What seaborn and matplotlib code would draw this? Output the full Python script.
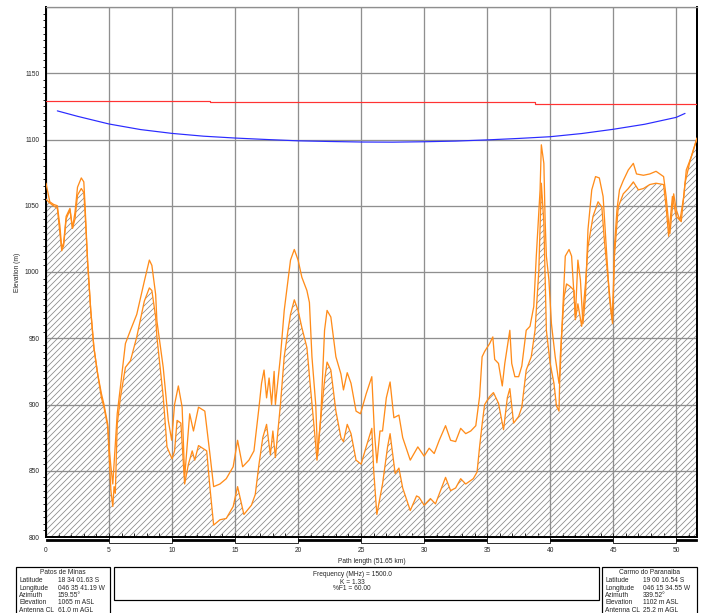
import matplotlib
matplotlib.use('Agg')
import matplotlib.pyplot as plt
from matplotlib.patches import Rectangle
from matplotlib.ticker import MultipleLocator, FixedLocator
import seaborn as sns
import pandas as pd

# terrain profile (km, m)
ground_km = [0.0, 0.3, 0.6, 0.9, 1.1, 1.25, 1.4, 1.6, 1.9, 2.1, 2.3, 2.5, 2.8, 3.0, 3.1, 3.3, 3.55, 3.8,
             4.1, 4.4, 4.6, 4.9, 5.0, 5.15, 5.3, 5.4, 5.5, 5.65, 5.9, 6.3, 6.7, 7.2, 7.8, 8.2, 8.4, 8.7,
             8.8, 9.3, 9.6, 10.0, 10.2, 10.4, 10.7, 11.0, 11.3, 11.6, 11.8, 12.1, 12.75, 13.0, 13.3, 13.8,
             14.3, 14.85, 15.2, 15.7, 16.3, 16.6, 16.9, 17.2, 17.5, 17.8, 18.0, 18.2, 18.6, 18.9, 19.2,
             19.4, 19.7, 20.0, 20.3, 20.7, 21.0, 21.3, 21.5, 21.8, 22.1, 22.3, 22.6, 23.0, 23.4, 23.6,
             23.9, 24.2, 24.6, 25.0, 25.4, 25.85, 26.0, 26.25, 26.5, 26.7, 27.1, 27.3, 27.7, 28.0, 28.3,
             28.9, 29.4, 29.6, 30.0, 30.5, 30.9, 31.3, 31.7, 32.1, 32.5, 32.9, 33.3, 33.9, 34.2, 34.4,
             34.6, 34.8, 35.2, 35.5, 35.9, 36.3, 36.6, 36.8, 37.1, 37.5, 37.75, 38.1, 38.5, 38.8, 39.1,
             39.3, 39.5, 39.7, 40.0, 40.3, 40.5, 40.7, 40.8, 41.1, 41.3, 41.6, 41.9, 42.0, 42.2, 42.5,
             42.8, 43.0, 43.4, 43.8, 44.1, 44.3, 44.6, 44.95, 45.1, 45.4, 45.8, 46.2, 46.6, 47.0, 47.4,
             47.9, 48.4, 49.0, 49.2, 49.4, 49.7, 50.0, 50.4, 50.7, 51.1, 51.65]
ground_m = [1055, 1052, 1050, 1048, 1030, 1016, 1020, 1040, 1047, 1033, 1040, 1058, 1063, 1060, 1045, 1008, 971, 943,
            923, 905, 898, 883, 863, 835, 823, 838, 833, 885, 905, 928, 933, 951, 978, 988, 986, 966,
            951, 906, 868, 859, 865, 888, 886, 840, 855, 865, 858, 869, 865, 838, 809, 813,
            814, 823, 838, 817, 824, 832, 855, 875, 885, 862, 880, 860, 900, 936, 956,
            968, 979, 971, 958, 943, 911, 880, 858, 890, 918, 932, 926, 895, 875, 872,
            885, 878, 858, 855, 868, 882, 850, 817, 830, 840, 868, 878, 848, 852, 837,
            820, 831, 830, 824, 829, 825, 835, 845, 835, 837, 844, 840, 844, 849, 868,
            885, 900, 906, 909, 901, 881, 905, 912, 886, 891, 898, 926, 936, 956, 1001,
            1067, 1037, 956, 931, 916, 899, 895, 936, 981, 991, 989, 986, 964, 976, 959,
            991, 1019, 1042, 1053, 1049, 1024, 994, 961, 1012, 1049, 1059, 1063, 1068, 1062, 1063,
            1066, 1067, 1066, 1049, 1027, 1057, 1042, 1038, 1067, 1084, 1101]

# terrain + clutter
clutter_km = [0.0, 0.3, 0.6, 0.9, 1.1, 1.25, 1.4, 1.6, 1.9, 2.1, 2.3, 2.5, 2.8, 3.0, 3.1, 3.3, 3.55, 3.8,
              4.1, 4.4, 4.6, 4.9, 5.0, 5.15, 5.3, 5.4, 5.65, 5.9, 6.3, 6.7, 7.2, 7.8, 8.2, 8.4, 8.7, 8.8,
              9.3, 9.7, 9.97, 10.2, 10.5, 10.8, 11.0, 11.4, 11.7, 12.1, 12.6, 13.0, 13.3, 13.8, 14.3,
              14.85, 15.2, 15.6, 16.1, 16.5, 16.9, 17.1, 17.3, 17.5, 17.7, 17.9, 18.1, 18.2, 18.6, 18.9,
              19.2, 19.4, 19.7, 20.0, 20.3, 20.7, 20.9, 21.1, 21.4, 21.55, 21.8, 22.1, 22.3, 22.6, 23.0,
              23.4, 23.6, 23.9, 24.2, 24.6, 24.95, 25.4, 25.85, 26.05, 26.25, 26.5, 26.7, 27.0, 27.3,
              27.6, 28.0, 28.3, 28.9, 29.5, 30.0, 30.4, 30.8, 31.2, 31.7, 32.1, 32.5, 32.9, 33.3, 33.7,
              34.1, 34.4, 34.6, 34.8, 35.2, 35.45, 35.6, 35.9, 36.2, 36.4, 36.8, 36.95, 37.2, 37.5, 37.75,
              38.1, 38.4, 38.7, 38.9, 39.2, 39.3, 39.5, 39.6, 39.7, 39.9, 40.1, 40.4, 40.7, 40.8, 40.9,
              41.2, 41.5, 41.7, 42.0, 42.2, 42.4, 42.6, 42.8, 43.0, 43.3, 43.6, 43.9, 44.2, 44.5, 44.7,
              44.9, 45.0, 45.1, 45.3, 45.5, 45.8, 46.2, 46.6, 46.85, 47.4, 47.9, 48.4, 49.0, 49.2, 49.4,
              49.5, 49.8, 50.0, 50.3, 50.6, 50.8, 51.2, 51.65]
clutter_m = [1067, 1053, 1051, 1050, 1035, 1018, 1022, 1042, 1048, 1033, 1045, 1064, 1071, 1068, 1050, 1008, 971, 943,
             923, 908, 900, 885, 868, 853, 840, 855, 893, 913, 946, 956, 968, 993, 1009, 1005, 983, 963,
             928, 888, 873, 900, 914, 898, 845, 893, 880, 898, 895, 863, 838, 840, 844,
             853, 873, 853, 858, 865, 898, 916, 926, 905, 920, 900, 925, 900, 936, 971,
             994, 1009, 1017, 1009, 996, 986, 977, 936, 900, 862, 890, 956, 971, 966, 936,
             923, 911, 924, 916, 895, 893, 908, 921, 880, 856, 880, 880, 905, 917,
             890, 892, 875, 858, 868, 861, 867, 863, 873, 884, 873, 872, 882, 878, 880,
             884, 906, 936, 940, 946, 951, 934, 931, 914, 931, 956, 931, 921, 921, 929,
             956, 959, 974, 1012, 1062, 1096, 1082, 1039, 1012, 994, 961, 936, 916, 926, 951,
             1012, 1017, 1012, 966, 1009, 994, 961, 981, 1032, 1062, 1072, 1071, 1057, 1012, 981,
             964, 981, 1019, 1047, 1062, 1069, 1077, 1082, 1074, 1073, 1074, 1076, 1072, 1057, 1037,
             1029, 1059, 1047, 1039, 1057, 1077, 1087, 1101]

# line of sight (red) and fresnel clearance (blue)
los_km = [0.0, 13.0, 13.0, 38.8, 38.8, 51.65]
los_m = [1129.2, 1129.2, 1128.0, 1128.0, 1126.8, 1126.8]
fresnel_km = [0.9, 2.5, 5.0, 7.5, 10.0, 12.5, 15.0, 17.5, 20.0, 22.5, 25.0, 27.5, 30.0, 32.5, 35.0,
              37.5, 40.0, 42.5, 45.0, 47.5, 50.0, 50.7]
fresnel_m = [1121.6, 1117.5, 1111.7, 1107.5, 1104.6, 1102.5, 1101.1, 1100.0, 1099.0, 1098.5, 1098.1,
             1098.0, 1098.3, 1098.8, 1099.7, 1100.8, 1102.1, 1104.5, 1107.7, 1111.5, 1116.7, 1119.7]

x_ticks = list(range(0, 55, 5))
y_ticks = [800, 850, 900, 950, 1000, 1050, 1100, 1150]

site_a = ['Patos de Minas', ('Latitude', '18 34 01.63 S'), ('Longitude', '046 35 41.19 W'),
          ('Azimuth', '159.55°'), ('Elevation', '1065 m ASL'), ('Antenna CL', '61.0 m AGL')]
site_b = ['Carmo do Paranaiba', ('Latitude', '19 00 16.54 S'), ('Longitude', '046 15 34.55 W'),
          ('Azimuth', '339.52°'), ('Elevation', '1102 m ASL'), ('Antenna CL', '25.2 m AGL')]
link_info = ['Frequency (MHz) = 1500.0', 'K = 1.33', '%F1 = 60.00']

sns.set_style('white')
plt.rcParams['font.family'] = ['Liberation Sans', 'DejaVu Sans']
plt.rcParams['hatch.linewidth'] = 0.8
FS = 6.6

W, H = 704, 613
fig = plt.figure(figsize=(W / 72, H / 72), dpi=72)
ax = fig.add_axes([46 / W, 1 - 537 / H, (697 - 46) / W, (537 - 7) / H])

ground = pd.DataFrame({'km': ground_km, 'm': ground_m})
clutter = pd.DataFrame({'km': clutter_km, 'm': clutter_m})

ax.fill_between(ground['km'], 800, ground['m'], facecolor='none', edgecolor='#8c8c8c',
                linewidth=0, hatch='////', zorder=1)
sns.lineplot(data=clutter, x='km', y='m', ax=ax, color='#ff8c1a', lw=1.3, sort=False,
             estimator=None, zorder=3)
sns.lineplot(data=ground, x='km', y='m', ax=ax, color='#ff8c1a', lw=1.3, sort=False,
             estimator=None, zorder=3)
sns.lineplot(x=los_km, y=los_m, ax=ax, color='#ff3333', lw=1.2, sort=False, estimator=None, zorder=3)
sns.lineplot(x=fresnel_km, y=fresnel_m, ax=ax, color='#2b2bff', lw=1.2, sort=False, estimator=None,
             zorder=3)

ax.set_xlim(0, 51.65)
ax.set_ylim(800, 1200)
ax.xaxis.set_major_locator(FixedLocator(x_ticks))
ax.xaxis.set_minor_locator(MultipleLocator(1))
ax.yaxis.set_major_locator(FixedLocator(y_ticks + [1200]))
ax.yaxis.set_minor_locator(MultipleLocator(5))
ax.set_yticklabels([str(v) for v in y_ticks] + [''])
ax.grid(True, which='major', color='#8f8f8f', lw=1.3, zorder=2)

ax.tick_params(axis='y', which='major', direction='out', length=5, width=1, labelsize=FS, pad=1.5)
ax.tick_params(axis='y', which='minor', direction='out', length=3, width=1, left=True)
ax.tick_params(axis='x', which='both', direction='in', length=4, width=1, labelsize=FS, pad=10,
               bottom=True)
ax.set_xlabel('Path length (51.65 km)', fontsize=FS, labelpad=4)
ax.set_ylabel('Elevation (m)', fontsize=FS, labelpad=4)
for side in ['left', 'right', 'bottom']:
    ax.spines[side].set_color('black')
    ax.spines[side].set_linewidth(2)
ax.spines['top'].set_color('#8f8f8f')
ax.spines['top'].set_linewidth(1.3)

# scale bar under the axis
tr = ax.get_xaxis_transform()
bar_h = 6 / (537 - 7)
for i, x0 in enumerate(x_ticks):
    x1 = min(x0 + 5, 51.65)
    if i % 2 == 0:
        ax.add_patch(Rectangle((x0, -bar_h * 0.7), x1 - x0, bar_h * 0.45, transform=tr,
                               facecolor='black', edgecolor='black', lw=0.8, clip_on=False))
    else:
        ax.add_patch(Rectangle((x0, -bar_h), x1 - x0, bar_h, transform=tr,
                               facecolor='white', edgecolor='black', lw=0.8, clip_on=False))


def px(x, y):
    return x / W, 1 - y / H


def box(x0, y0, x1, y1):
    fx, fy = px(x0, y1)
    fig.patches.append(Rectangle((fx, fy), (x1 - x0) / W, (y1 - y0) / H, transform=fig.transFigure,
                                 facecolor='white', edgecolor='black', lw=1.2))


def site_box(info, x0, x1, xval):
    box(x0, 567, x1, 625)
    fig.text(*px((x0 + x1) / 2, 572.5), info[0], fontsize=FS, ha='center', va='center')
    for k, (label, value) in enumerate(info[1:]):
        y = 580.5 + k * 7.5
        fig.text(*px(x0 + 3, y), label, fontsize=FS, ha='left', va='center')
        fig.text(*px(xval, y), value, fontsize=FS, ha='left', va='center')


site_box(site_a, 16, 110, 58)
site_box(site_b, 602, 697, 643)
box(114, 567, 599, 600)
for k, line in enumerate(link_info):
    fig.text(*px(352, 575 + k * 7), line, fontsize=FS, ha='center', va='center')

fig.savefig('out.png', dpi=72)
